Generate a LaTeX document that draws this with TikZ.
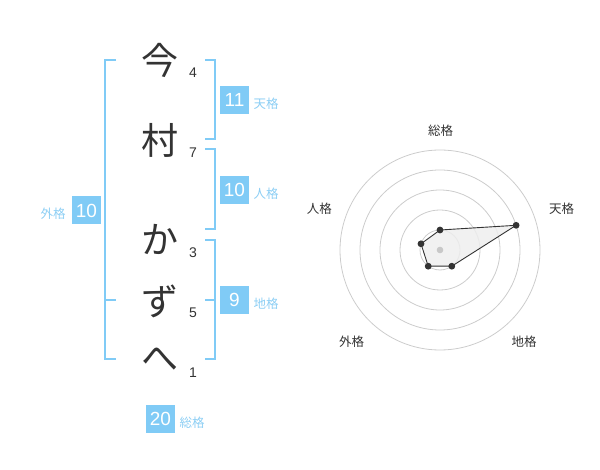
\documentclass[tikz,border=0pt]{standalone}
\usepackage{fontspec}
\setmainfont{Liberation Sans}
\newfontfamily\jp{Noto Sans CJK JP}
\definecolor{bl}{HTML}{80CBF6}
\definecolor{lbl}{HTML}{8CCEF4}
\definecolor{txt}{HTML}{333333}
\definecolor{ring}{HTML}{CCCCCC}
\definecolor{poly}{HTML}{EEEEEE}
\definecolor{cdot}{HTML}{C8C8C8}
\begin{document}
\begin{tikzpicture}[x=1pt,y=-1pt,
  big/.style={font=\jp\fontsize{37}{37}\selectfont, text=txt, inner sep=0pt},
  num/.style={font=\fontsize{14}{14}\selectfont, text=txt, inner sep=0pt},
  scorebox/.style={fill=bl, text=white, minimum width=29pt, minimum height=28pt, inner sep=0pt, font=\fontsize{19}{19}\selectfont},
  lab/.style={font=\jp\fontsize{12.5}{12.5}\selectfont, text=lbl, inner sep=0pt},
  brk/.style={draw=bl, line width=2pt},
  rlab/.style={font=\jp\fontsize{12.5}{12.5}\selectfont, text=txt, inner sep=0pt},
  ringline/.style={draw=ring, line width=0.8pt},
  pt/.style={fill=txt, draw=none}
]
\useasboundingbox (0,0) rectangle (600,470);
% characters
\node[big] (c1) at (160,60) {今};
\node[big] (c2) at (160,140) {村};
\node[big] (c3) at (160,239) {か};
\node[big] (c4) at (160,301) {ず};
\node[big] (c5) at (160,359) {へ};
% stroke counts
\node[num] (n1) at (193,73) {4};
\node[num] (n2) at (193,153) {7};
\node[num] (n3) at (193,253) {3};
\node[num] (n4) at (193,313) {5};
\node[num] (n5) at (193,373) {1};
% brackets
\draw[brk] (205,60) -- (215,60) -- (215,139) -- (205,139);
\draw[brk] (205,149) -- (215,149) -- (215,229) -- (205,229);
\draw[brk] (205,240) -- (215,240) -- (215,359) -- (205,359);
\draw[brk] (205,300) -- (215,300);
\draw[brk] (116,60) -- (105,60) -- (105,359) -- (116,359);
\draw[brk] (105,300) -- (116,300);
% boxes
\node[scorebox] (ten) at (234.5,100) {11};
\node[lab] (tenl) at (266,104) {天格};
\node[scorebox] (jin) at (234.5,190) {10};
\node[lab] (jinl) at (266,194) {人格};
\node[scorebox] (chi) at (234.5,300) {9};
\node[lab] (chil) at (266,304) {地格};
\node[scorebox] (gai) at (86.5,210.5) {10};
\node[lab] (gail) at (53,213.5) {外格};
\node[scorebox] (sou) at (160.5,419) {20};
\node[lab] (soul) at (192,423) {総格};
% radar
\coordinate (o) at (440,250);
\foreach \r in {20,40,60,80,100} \draw[ringline] (o) circle[radius=\r];
\coordinate (pS) at (440,230);
\coordinate (pT) at (516.1,225.3);
\coordinate (pC) at (451.8,266.2);
\coordinate (pG) at (428.2,266.2);
\coordinate (pJ) at (421,243.8);
\fill[poly, opacity=0.85] (pS) -- (pT) -- (pC) -- (pG) -- (pJ) -- cycle;
\fill[cdot] (o) circle[radius=3.3];
\draw[txt, line width=0.9pt, line join=round] (pS) -- (pT) -- (pC) -- (pG) -- (pJ) -- cycle;
\foreach \p in {pS,pT,pC,pG,pJ} \fill[pt] (\p) circle[radius=3.4];
\node[rlab] (rS) at (440.7,130.7) {総格};
\node[rlab] (rT) at (561.7,208.3) {天格};
\node[rlab] (rJ) at (319.3,209) {人格};
\node[rlab] (rC) at (524,341.7) {地格};
\node[rlab] (rG) at (351.7,341.7) {外格};
\end{tikzpicture}
\end{document}
